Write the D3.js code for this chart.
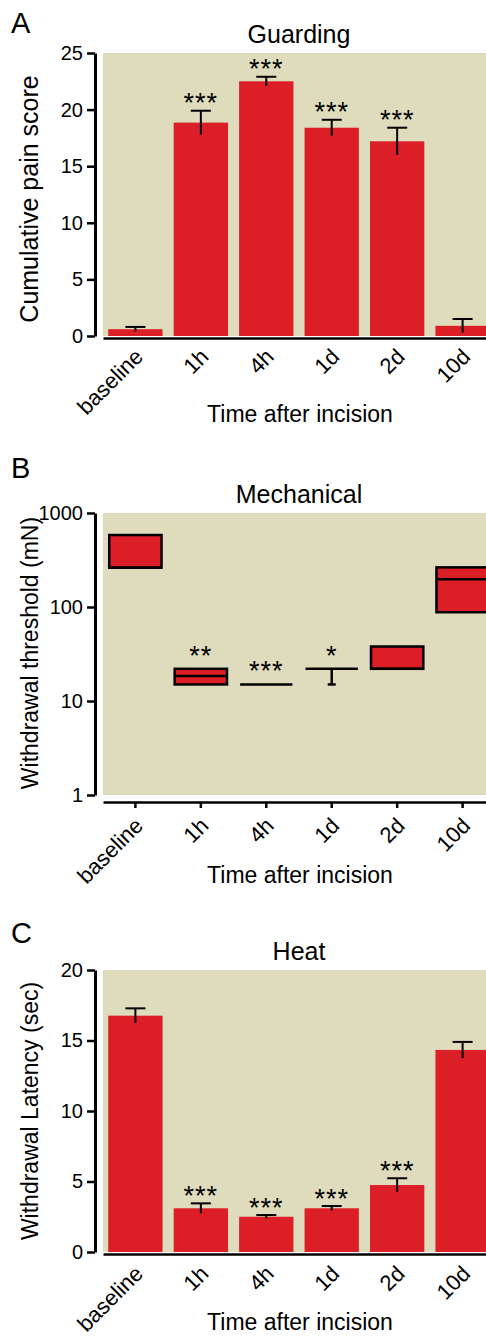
<!DOCTYPE html>
<html>
<head>
<meta charset="utf-8">
<script src="https://cdn.jsdelivr.net/npm/d3@7"></script>
<style>
  body { margin: 0; background: #fff; }
  svg { display: block; font-family: "Liberation Sans", Arial, sans-serif; }
</style>
</head>
<body>
<svg width="486" height="1339"></svg>
<script>
'use strict';

// categories shared by all three panels
const categories = ["baseline", "1h", "4h", "1d", "2d", "10d"];

// A - guarding
const guardMean = [0.6, 18.85, 22.5, 18.4, 17.2, 0.9];
const guardErr = [0.2, 1.05, 0.4, 0.7, 1.2, 0.6];
const guardStars = ["", "***", "***", "***", "***", ""];
const guardTicks = [0, 5, 10, 15, 20, 25];

// B - mechanical (box: low..high, median line, whisker down to min)
const mechHigh = [583, 22, 15, 22, 38, 264];
const mechLow = [262, 15, 15, 22, 22, 88];
const mechMedian = [262, 18.4, 15, 22, 22, 197];
const mechMin = [262, 15, 15, 15, 22, 88];
const mechStars = ["", "**", "***", "*", "", ""];
const mechTicks = [1, 10, 100, 1000];

// C - heat
const heatMean = [16.76, 3.1, 2.5, 3.1, 4.75, 14.33];
const heatErr = [0.52, 0.35, 0.12, 0.16, 0.48, 0.57];
const heatStars = ["", "***", "***", "***", "***", ""];
const heatTicks = [0, 5, 10, 15, 20];

const red = "#dc1f27",
    bg = "#dedcbd",
    plotLeft = 103,
    plotRight = 495,
    axisX = 95;

let svg = d3.select("svg");

let x = d3.scaleBand()
    .domain(categories)
    .range([plotLeft, plotRight])
    .paddingInner(0.17)
    .paddingOuter(0.08);

function frame(p) {
    // background
    svg.append("rect")
        .attr("x", plotLeft)
        .attr("y", p.top)
        .attr("width", plotRight - plotLeft)
        .attr("height", p.bottom - p.top)
        .attr("fill", bg);

    // y axis
    let ya = svg.append("g")
        .attr("transform", "translate(" + axisX + ",0)")
        .call(d3.axisLeft(p.y).tickValues(p.ticks).tickFormat(d3.format("d")).tickSize(8).tickSizeOuter(0).tickPadding(4));
    ya.select(".domain").attr("stroke-width", 3);
    ya.selectAll(".tick line").attr("stroke-width", 2.5);
    ya.selectAll(".tick text").attr("font-size", 20).attr("fill", "#000").attr("font-family", null);

    // x axis
    let xa = svg.append("g")
        .attr("transform", "translate(0," + (p.bottom + p.xOff) + ")")
        .call(d3.axisBottom(x).tickSize(p.xTick).tickSizeOuter(0));
    xa.select(".domain").attr("stroke-width", 2.5);
    xa.selectAll(".tick line").attr("stroke-width", 2.5);
    xa.selectAll(".tick text")
        .attr("font-size", 22)
        .attr("font-family", null)
        .attr("fill", "#000")
        .attr("x", 0).attr("y", 0).attr("dy", 0)
        .style("text-anchor", "end")
        .attr("transform", "translate(9," + p.labOff + ") rotate(-45)");

    // titles
    svg.append("text")
        .attr("x", 299).attr("y", p.top - 10)
        .attr("text-anchor", "middle")
        .attr("font-size", 25)
        .text(p.title);
    svg.append("text")
        .attr("x", 11).attr("y", p.letterY)
        .attr("font-size", 29)
        .text(p.letter);
    svg.append("text")
        .attr("transform", "translate(38," + p.ylabY + ") rotate(-90)")
        .attr("text-anchor", "middle")
        .attr("font-size", p.ylabSize)
        .text(p.ylab);
    svg.append("text")
        .attr("x", 300).attr("y", p.xlabY)
        .attr("text-anchor", "middle")
        .attr("font-size", 23)
        .text("Time after incision");
}

function barPanel(p, mean, err, stars) {
    frame(p);
    let g = svg.append("g");
    g.selectAll("rect.bar")
        .data(categories)
        .enter()
        .append("rect")
        .attr("class", "bar")
        .attr("x", d => x(d))
        .attr("width", x.bandwidth())
        .attr("y", (d, i) => p.y(mean[i]))
        .attr("height", (d, i) => p.bottom - p.y(mean[i]))
        .attr("fill", red);
    // error bars, upper only
    g.selectAll("line.err")
        .data(categories)
        .enter()
        .append("line")
        .attr("class", "err")
        .attr("x1", d => x(d) + x.bandwidth() / 2)
        .attr("x2", d => x(d) + x.bandwidth() / 2)
        .attr("y1", (d, i) => p.y(mean[i] - err[i]))
        .attr("y2", (d, i) => p.y(mean[i] + err[i]))
        .attr("stroke", "#000")
        .attr("stroke-width", 2);
    g.selectAll("line.cap")
        .data(categories)
        .enter()
        .append("line")
        .attr("class", "cap")
        .attr("x1", d => x(d) + x.bandwidth() / 2 - 10)
        .attr("x2", d => x(d) + x.bandwidth() / 2 + 10)
        .attr("y1", (d, i) => p.y(mean[i] + err[i]))
        .attr("y2", (d, i) => p.y(mean[i] + err[i]))
        .attr("stroke", "#000")
        .attr("stroke-width", 2);
    g.selectAll("text.star")
        .data(categories)
        .enter()
        .append("text")
        .attr("class", "star")
        .attr("x", d => x(d) + x.bandwidth() / 2)
        .attr("y", (d, i) => p.y(mean[i] + err[i]) + p.starOff)
        .attr("text-anchor", "middle")
        .attr("font-size", 27)
        .attr("letter-spacing", 1)
        .text((d, i) => stars[i]);
}

// Panel A
let yA = d3.scaleLinear().domain([0, 25]).range([336, 53]);
barPanel({
    y: yA, ticks: guardTicks, top: 53, bottom: 336, xOff: 2, xTick: 0, labOff: 20, starOff: 1,
    title: "Guarding", letter: "A", letterY: 33,
    ylab: "Cumulative pain score", ylabY: 199, ylabSize: 25, xlabY: 422
}, guardMean, guardErr, guardStars);

// Panel B
let yB = d3.scaleLog().domain([1, 1000]).range([795, 513]);
let pB = {
    y: yB, ticks: mechTicks, top: 513, bottom: 795, xOff: 7, xTick: 6, labOff: 25,
    title: "Mechanical", letter: "B", letterY: 478,
    ylab: "Withdrawal threshold (mN)", ylabY: 653, ylabSize: 23, xlabY: 883
};
frame(pB);
let gB = svg.append("g");
gB.selectAll("rect.box")
    .data(categories.filter((d, i) => mechHigh[i] > mechLow[i]))
    .enter()
    .append("rect")
    .attr("class", "box")
    .attr("x", d => x(d) + 1)
    .attr("width", x.bandwidth() - 2)
    .attr("y", d => yB(mechHigh[categories.indexOf(d)]))
    .attr("height", d => yB(mechLow[categories.indexOf(d)]) - yB(mechHigh[categories.indexOf(d)]))
    .attr("fill", red)
    .attr("stroke", "#000")
    .attr("stroke-width", 2.5);
gB.selectAll("line.med")
    .data(categories)
    .enter()
    .append("line")
    .attr("class", "med")
    .attr("x1", d => x(d) + 1)
    .attr("x2", d => x(d) + x.bandwidth() - 1)
    .attr("y1", (d, i) => yB(mechMedian[i]))
    .attr("y2", (d, i) => yB(mechMedian[i]))
    .attr("stroke", "#000")
    .attr("stroke-width", 2.5);
let whisk = categories.filter((d, i) => mechMin[i] < mechLow[i]);
gB.selectAll("line.wh")
    .data(whisk)
    .enter()
    .append("line")
    .attr("class", "wh")
    .attr("x1", d => x(d) + x.bandwidth() / 2)
    .attr("x2", d => x(d) + x.bandwidth() / 2)
    .attr("y1", d => yB(mechLow[categories.indexOf(d)]))
    .attr("y2", d => yB(mechMin[categories.indexOf(d)]))
    .attr("stroke", "#000")
    .attr("stroke-width", 2.5);
gB.selectAll("line.whcap")
    .data(whisk)
    .enter()
    .append("line")
    .attr("class", "whcap")
    .attr("x1", d => x(d) + x.bandwidth() / 2 - 4)
    .attr("x2", d => x(d) + x.bandwidth() / 2 + 4)
    .attr("y1", d => yB(mechMin[categories.indexOf(d)]))
    .attr("y2", d => yB(mechMin[categories.indexOf(d)]))
    .attr("stroke", "#000")
    .attr("stroke-width", 2.5);
gB.selectAll("text.star")
    .data(categories)
    .enter()
    .append("text")
    .attr("class", "star")
    .attr("x", d => x(d) + x.bandwidth() / 2)
    .attr("y", (d, i) => yB(mechHigh[i]) - 4)
    .attr("text-anchor", "middle")
    .attr("font-size", 27)
    .attr("letter-spacing", 1)
    .text((d, i) => mechStars[i]);

// Panel C
let yC = d3.scaleLinear().domain([0, 20]).range([1252, 970]);
barPanel({
    y: yC, ticks: heatTicks, top: 970, bottom: 1252, xOff: 2, xTick: 0, labOff: 21, starOff: 2,
    title: "Heat", letter: "C", letterY: 943,
    ylab: "Withdrawal Latency (sec)", ylabY: 1111, ylabSize: 23, xlabY: 1330
}, heatMean, heatErr, heatStars);
</script>
</body>
</html>
